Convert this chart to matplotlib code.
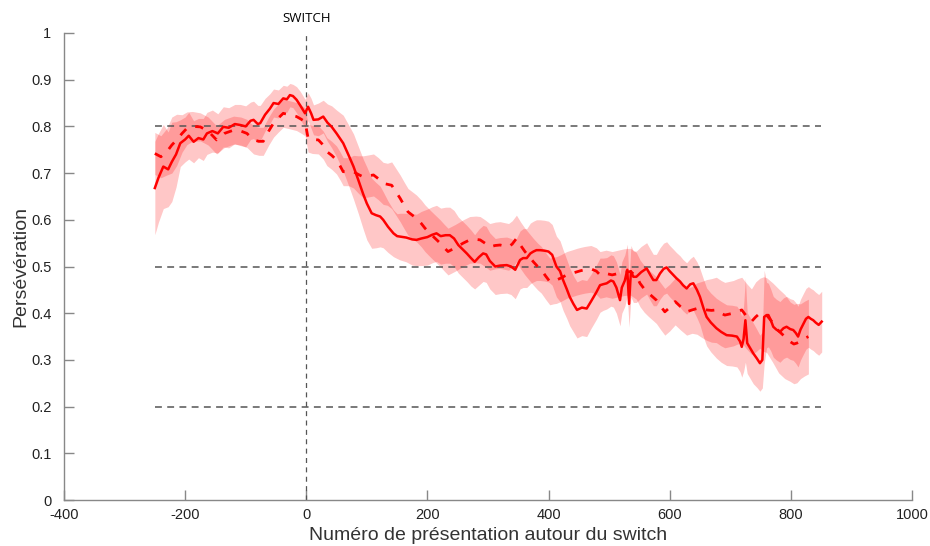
import matplotlib
matplotlib.use("Agg")
import matplotlib.pyplot as plt
import numpy as np

# ---------------- data ----------------
solid_x = [-250, -244, -236, -228, -222, -215, -208, -200, -194, -186, -178, -170, -164, -155, -146, -137,
           -128, -118, -109, -100, -92, -87, -80, -76, -68, -60, -54, -46, -38, -32, -27, -22, -16, -10,
           -2, 3, 8, 12, 20, 28, 35, 42, 50, 61, 70, 78, 86, 94, 100, 108, 115, 122, 127, 135, 144,
           150, 155, 165, 175, 182, 190, 200, 208, 215, 222, 230, 237, 244, 251, 258, 265, 272, 278,
           285, 292, 297, 303, 312, 320, 331, 338, 345, 353, 358, 364, 370, 375, 380, 386, 393, 400,
           406, 413, 419, 424, 430, 435, 441, 447, 455, 463, 470, 479, 485, 490, 496, 503, 507, 512,
           518, 521, 526, 530, 533, 536, 540, 545, 553, 562, 568, 573, 578, 584, 590, 595, 600, 606,
           611, 617, 622, 628, 634, 639, 645, 650, 656, 661, 668, 677, 685, 694, 703, 711, 716, 719,
           722, 725, 728, 733, 738, 744, 749, 753, 756, 760, 763, 767, 771, 776, 782, 788, 793, 799,
           804, 808, 812, 816, 821, 825, 829, 833, 837, 841, 846, 851]
solid_y = [0.668, 0.690, 0.714, 0.708, 0.724, 0.740, 0.764, 0.772, 0.780, 0.767, 0.775, 0.772, 0.785,
           0.790, 0.785, 0.799, 0.797, 0.805, 0.803, 0.800, 0.812, 0.814, 0.805, 0.807, 0.825, 0.838,
           0.850, 0.848, 0.860, 0.858, 0.867, 0.865, 0.857, 0.845, 0.828, 0.842, 0.828, 0.814, 0.815,
           0.821, 0.808, 0.799, 0.785, 0.764, 0.738, 0.714, 0.685, 0.655, 0.635, 0.614, 0.610, 0.607,
           0.600, 0.585, 0.571, 0.565, 0.564, 0.562, 0.558, 0.557, 0.560, 0.563, 0.568, 0.571, 0.565,
           0.567, 0.567, 0.560, 0.546, 0.537, 0.528, 0.518, 0.510, 0.520, 0.528, 0.526, 0.512, 0.500,
           0.502, 0.503, 0.500, 0.493, 0.514, 0.518, 0.518, 0.528, 0.532, 0.535, 0.535, 0.534, 0.532,
           0.525, 0.500, 0.490, 0.471, 0.452, 0.435, 0.420, 0.407, 0.412, 0.410, 0.425, 0.445, 0.460,
           0.462, 0.464, 0.470, 0.468, 0.455, 0.428, 0.455, 0.470, 0.493, 0.420, 0.490, 0.478, 0.478,
           0.488, 0.496, 0.482, 0.471, 0.471, 0.485, 0.495, 0.498, 0.490, 0.482, 0.475, 0.468, 0.460,
           0.453, 0.462, 0.464, 0.450, 0.435, 0.410, 0.392, 0.380, 0.368, 0.360, 0.353, 0.352, 0.350,
           0.340, 0.328, 0.345, 0.385, 0.336, 0.325, 0.314, 0.303, 0.293, 0.300, 0.392, 0.396, 0.396,
           0.385, 0.371, 0.365, 0.360, 0.368, 0.371, 0.366, 0.364, 0.358, 0.350, 0.365, 0.378, 0.388,
           0.392, 0.388, 0.385, 0.380, 0.375, 0.382]
solid_err = [0.100, 0.095, 0.090, 0.080, 0.085, 0.070, 0.050, 0.048, 0.050, 0.045, 0.042, 0.045, 0.045,
             0.045, 0.042, 0.043, 0.043, 0.042, 0.044, 0.044, 0.040, 0.040, 0.040, 0.038, 0.035, 0.032,
             0.030, 0.030, 0.028, 0.028, 0.025, 0.025, 0.028, 0.030, 0.030, 0.030, 0.032, 0.032, 0.035,
             0.035, 0.040, 0.045, 0.050, 0.060, 0.065, 0.070, 0.072, 0.075, 0.078, 0.075, 0.070, 0.065,
             0.060, 0.055, 0.050, 0.048, 0.050, 0.052, 0.055, 0.055, 0.058, 0.060, 0.060, 0.060, 0.060,
             0.060, 0.060, 0.060, 0.060, 0.060, 0.060, 0.060, 0.058, 0.060, 0.060, 0.060, 0.060, 0.060,
             0.060, 0.060, 0.060, 0.062, 0.062, 0.063, 0.063, 0.065, 0.065, 0.065, 0.065, 0.065, 0.065,
             0.065, 0.065, 0.065, 0.065, 0.063, 0.062, 0.060, 0.060, 0.060, 0.060, 0.058, 0.058, 0.058,
             0.056, 0.055, 0.055, 0.055, 0.055, 0.055, 0.055, 0.055, 0.055, 0.050, 0.055, 0.055, 0.055,
             0.055, 0.055, 0.055, 0.055, 0.055, 0.055, 0.055, 0.055, 0.055, 0.055, 0.055, 0.055, 0.055,
             0.055, 0.055, 0.058, 0.060, 0.060, 0.062, 0.062, 0.063, 0.064, 0.065, 0.065, 0.065, 0.065,
             0.065, 0.065, 0.070, 0.090, 0.065, 0.065, 0.065, 0.062, 0.060, 0.060, 0.100, 0.070, 0.068,
             0.066, 0.065, 0.065, 0.065, 0.065, 0.065, 0.065, 0.065, 0.065, 0.065, 0.065, 0.065, 0.065,
             0.065, 0.065, 0.065, 0.065, 0.065, 0.065]

dash_x = [-250, -240, -230, -222, -214, -205, -197, -188, -175, -162, -148, -135, -120, -108, -98, -87,
          -78, -71, -62, -54, -46, -38, -28, -16, -8, -2, 3, 10, 20, 28, 34, 42, 50, 56, 61, 70, 78, 86,
          94, 103, 111, 119, 127, 134, 141, 148, 155, 162, 168, 175, 182, 190, 196, 205, 213, 221, 228,
          234, 246, 259, 270, 280, 287, 295, 303, 312, 320, 327, 334, 340, 347, 354, 361, 368, 375, 382,
          388, 395, 402, 408, 413, 420, 430, 440, 447, 453, 460, 470, 479, 485, 495, 505, 515, 525, 535,
          545, 551, 558, 565, 572, 578, 585, 592, 600, 609, 618, 628, 637, 645, 653, 661, 669, 677, 685,
          691, 698, 705, 712, 719, 726, 735, 742, 749, 755, 760, 770, 780, 790, 799, 805, 810, 816, 823,
          829]
dash_y = [0.742, 0.735, 0.746, 0.760, 0.771, 0.785, 0.796, 0.800, 0.799, 0.790, 0.771, 0.785, 0.792,
          0.790, 0.785, 0.771, 0.768, 0.768, 0.790, 0.807, 0.818, 0.828, 0.825, 0.821, 0.815, 0.810,
          0.775, 0.772, 0.771, 0.760, 0.746, 0.738, 0.728, 0.715, 0.703, 0.703, 0.703, 0.697, 0.692,
          0.694, 0.696, 0.688, 0.678, 0.676, 0.674, 0.660, 0.646, 0.630, 0.617, 0.610, 0.603, 0.592,
          0.582, 0.570, 0.560, 0.550, 0.540, 0.532, 0.540, 0.550, 0.557, 0.558, 0.557, 0.550, 0.542,
          0.545, 0.546, 0.544, 0.542, 0.548, 0.560, 0.545, 0.532, 0.521, 0.510, 0.500, 0.493, 0.480,
          0.468, 0.470, 0.471, 0.475, 0.482, 0.486, 0.489, 0.491, 0.493, 0.495, 0.490, 0.482, 0.485,
          0.482, 0.485, 0.488, 0.489, 0.480, 0.464, 0.452, 0.443, 0.435, 0.428, 0.415, 0.403, 0.412,
          0.425, 0.414, 0.403, 0.407, 0.410, 0.408, 0.407, 0.406, 0.407, 0.400, 0.396, 0.398, 0.400,
          0.404, 0.407, 0.395, 0.382, 0.392, 0.400, 0.398, 0.396, 0.380, 0.362, 0.350, 0.339, 0.334,
          0.336, 0.340, 0.346, 0.350]
dash_err = [0.045, 0.045, 0.050, 0.060, 0.055, 0.040, 0.035, 0.032, 0.030, 0.030, 0.030, 0.030, 0.030,
            0.030, 0.030, 0.030, 0.030, 0.030, 0.030, 0.030, 0.030, 0.030, 0.030, 0.030, 0.030, 0.030,
            0.030, 0.030, 0.030, 0.030, 0.030, 0.030, 0.030, 0.030, 0.030, 0.030, 0.035, 0.040, 0.045,
            0.045, 0.045, 0.045, 0.045, 0.045, 0.050, 0.050, 0.050, 0.050, 0.050, 0.050, 0.050, 0.050,
            0.050, 0.050, 0.050, 0.050, 0.050, 0.050, 0.050, 0.050, 0.050, 0.050, 0.050, 0.050, 0.050,
            0.050, 0.050, 0.050, 0.050, 0.050, 0.050, 0.050, 0.050, 0.050, 0.050, 0.050, 0.050, 0.050,
            0.050, 0.050, 0.050, 0.050, 0.050, 0.050, 0.050, 0.050, 0.050, 0.050, 0.050, 0.050, 0.050,
            0.050, 0.050, 0.050, 0.050, 0.050, 0.050, 0.050, 0.050, 0.050, 0.050, 0.050, 0.050, 0.050,
            0.050, 0.050, 0.050, 0.050, 0.055, 0.060, 0.065, 0.068, 0.070, 0.070, 0.070, 0.070, 0.070,
            0.070, 0.070, 0.070, 0.070, 0.075, 0.075, 0.080, 0.080, 0.085, 0.090, 0.090, 0.085, 0.085,
            0.085, 0.080, 0.080, 0.080]

ref_levels = [0.2, 0.5, 0.8]
ref_xrange = [-250, 850]
switch_x = 0
xticks = [-400, -200, 0, 200, 400, 600, 800, 1000]
yticks = [0, 0.1, 0.2, 0.3, 0.4, 0.5, 0.6, 0.7, 0.8, 0.9, 1]
ytick_labels = ["0", "0.1", "0.2", "0.3", "0.4", "0.5", "0.6", "0.7", "0.8", "0.9", "1"]

# ---------------- figure ----------------
plt.rcParams['font.family'] = ['Liberation Sans', 'DejaVu Sans']
plt.rcParams['axes.unicode_minus'] = False
fig = plt.figure(figsize=(9.3, 5.46), dpi=100)
ax = fig.add_axes([0.0688, 0.0842, 0.9118, 0.8554])

sx = np.array(solid_x); sy = np.array(solid_y); se = np.array(solid_err)
dx = np.array(dash_x); dy = np.array(dash_y); de = np.array(dash_err)

ax.fill_between(sx, sy - se, sy + se, color='red', alpha=0.22, linewidth=0)
ax.fill_between(dx, dy - de, dy + de, color='red', alpha=0.22, linewidth=0)

for lv in ref_levels:
    ax.plot(ref_xrange, [lv, lv], color='#555555', lw=1.1, dashes=(4.5, 3.5))
ax.plot([switch_x, switch_x], [0, 1], color='#555555', lw=0.9, dashes=(4, 3.5))

ax.plot(sx, sy, color='red', lw=1.8, solid_joinstyle='round')
ax.plot(dx, dy, color='red', lw=2.0, dashes=(3, 3.5))

ax.text(switch_x, 1.017, 'SWITCH', ha='center', va='bottom', fontsize=9.5,
        family=['Open Sans', 'DejaVu Sans'])

ax.set_xlim(-400, 1000)
ax.set_ylim(0, 1)
ax.set_xticks(xticks)
ax.set_yticks(yticks)
ax.set_yticklabels(ytick_labels)
for s in ['top', 'right']:
    ax.spines[s].set_visible(False)
for s in ['left', 'bottom']:
    ax.spines[s].set_color('#888888')
    ax.spines[s].set_linewidth(1.0)
ax.tick_params(direction='in', length=7, width=1, color='#888888', labelsize=10.5,
               labelcolor='#222222')
ax.tick_params(axis='y', pad=9)
ax.tick_params(axis='x', pad=6)
ax.set_xlabel('Numéro de présentation autour du switch', fontsize=14, color='#333333', labelpad=3)
ax.set_ylabel('Persévération', fontsize=14, color='#333333', labelpad=1)

fig.savefig('out.png', dpi=100)
